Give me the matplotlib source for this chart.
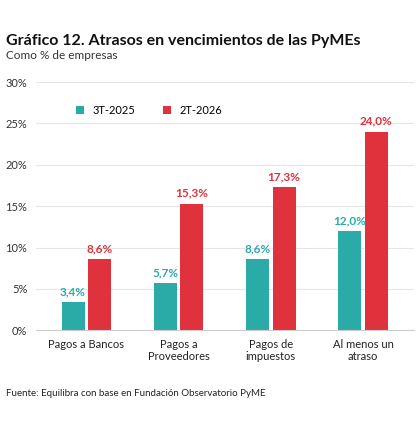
import matplotlib.pyplot as plt
import numpy as np

plt.rcParams['font.family'] = ['Lato', 'DejaVu Sans']

categorias = ['Pagos a Bancos', 'Pagos a\nProveedores', 'Pagos de\nimpuestos', 'Al menos un\natraso']
s2025 = [3.4, 5.7, 8.6, 12.0]
s2026 = [8.6, 15.3, 17.3, 24.0]
c1, c2 = '#2aaba8', '#e0323c'

fig = plt.figure(figsize=(4.2, 4.3), dpi=100)
ax = fig.add_axes([0.085, 0.232, 0.9, 0.577])
x = np.arange(len(categorias))
w = 0.25
ax.bar(x - w/2 - 0.02, s2025, w, color=c1, label='3T-2025')
ax.bar(x + w/2 + 0.02, s2026, w, color=c2, label='2T-2026')
for xi, v in zip(x, s2025):
    ax.text(xi - w/2 - 0.02, v + 0.6, f'{v:.1f}%'.replace('.', ','), ha='center', va='bottom',
            color=c1, fontsize=8.5, fontweight='bold')
for xi, v in zip(x, s2026):
    ax.text(xi + w/2 + 0.02, v + 0.6, f'{v:.1f}%'.replace('.', ','), ha='center', va='bottom',
            color=c2, fontsize=8.5, fontweight='bold')

ax.set_ylim(0, 30)
ax.set_xlim(-0.55, 3.55)
ax.set_yticks(range(0, 31, 5))
ax.set_yticklabels([f'{t}%' for t in range(0, 31, 5)], fontsize=8, color='#333333')
ax.set_xticks(x)
ax.set_xticklabels(categorias, fontsize=8, color='#222222')
ax.tick_params(length=0, pad=6)
ax.grid(axis='y', color='#e6e6e6', linewidth=0.8)
ax.set_axisbelow(True)
for s in ax.spines.values():
    s.set_visible(False)
ax.spines['bottom'].set_visible(True)
ax.spines['bottom'].set_color('#cccccc')

ax.legend(loc='upper left', bbox_to_anchor=(0.08, 0.95), ncol=2, frameon=False, fontsize=8,
          handlelength=0.7, handleheight=0.7, columnspacing=2.5)

fig.text(0.015, 0.895, 'Gráfico 12. Atrasos en vencimientos de las PyMEs', fontsize=11.5,
         fontweight='bold', color='#111111')
fig.text(0.015, 0.862, 'Como % de empresas', fontsize=8.5, color='#333333')
fig.text(0.015, 0.078, 'Fuente: Equilibra con base en Fundación Observatorio PyME', fontsize=7,
         color='#222222')

fig.savefig('out.png', dpi=100, facecolor='white')
